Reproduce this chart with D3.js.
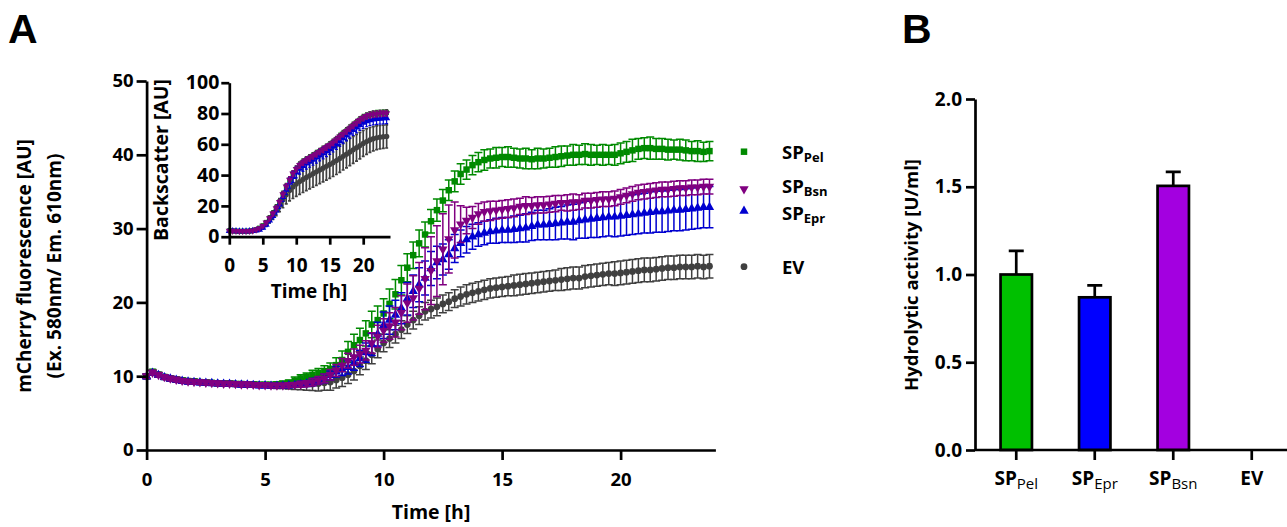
<!DOCTYPE html>
<html><head><meta charset="utf-8">
<script src="https://cdn.jsdelivr.net/npm/d3@7"></script>
<style>
body{margin:0;background:#fff}
svg{display:block;font-family:'Open Sans',sans-serif;font-weight:bold}
</style>
</head><body>
<svg id="c" width="1287" height="527"></svg>
<script>
// ---------- Panel A main: mCherry fluorescence ----------
const time = [0,0.25,0.5,0.75,1,1.25,1.5,1.75,2,2.25,2.5,2.75,3,3.25,3.5,3.75,4,4.25,4.5,4.75,5,5.25,5.5,5.75,
6,6.25,6.5,6.75,7,7.25,7.5,7.75,8,8.25,8.5,8.75,9,9.25,9.5,9.75,10,10.25,10.5,10.75,11,11.25,11.5,11.75,
12,12.25,12.5,12.75,13,13.25,13.5,13.75,14,14.25,14.5,14.75,15,15.25,15.5,15.75,16,16.25,16.5,16.75,17,17.25,17.5,17.75,
18,18.25,18.5,18.75,19,19.25,19.5,19.75,20,20.25,20.5,20.75,21,21.25,21.5,21.75,22,22.25,22.5,22.75,23,23.25,23.5,23.75];

const pelMean = [10.0,10.6,10.2,9.9,9.7,9.55,9.45,9.35,9.3,9.2,9.15,9.1,9.05,9.0,9.0,8.95,8.95,8.9,8.9,8.85,8.85,8.85,8.9,
8.95,9.1,9.4,9.7,9.95,10.2,10.45,10.7,11.0,
11.5,12.2,13.3,14.2, 14.9,15.8,17.0,17.6, 18.5,19.8,21.1,23.0, 24.7,26.4,28.0,29.2,
31.0,32.5,33.8,35.2, 36.4,37.4,38.0,38.6, 39.0,39.3,39.5,39.6, 39.7,39.7,39.6,39.5,
39.5,39.4,39.5,39.5, 39.6,39.7,39.8,39.9, 40.0,40.0,40.1,40.0, 40.0,40.0,40.0,40.0,
40.2,40.4,40.6,40.8, 40.9,40.9,40.8,40.8, 40.7,40.7,40.7,40.6, 40.5,40.5,40.4,40.5];
const pelErr = [0.3,0.3,0.3,0.3,0.3,0.3,0.3,0.3,0.3,0.3,0.3,0.3,0.3,0.3,0.3,0.3,0.3,0.3,0.3,0.3,0.3,0.3,0.3,
0.4,0.4,0.5,0.5,0.5,0.6,0.6,0.7,0.8,
1.0,1.2,1.4,1.5, 1.6,1.7,1.8,1.9, 2.0,2.0,2.0,2.0, 1.9,1.8,1.8,1.7, 1.6,1.5,1.5,1.4, 1.4,1.4,1.3,1.3,
1.3,1.4,1.3,1.4, 1.3,1.4,1.3,1.3, 1.4,1.3,1.4,1.3, 1.3,1.4,1.4,1.3, 1.4,1.3,1.4,1.4,
1.3,1.4,1.3,1.4, 1.4,1.4,1.5,1.4, 1.4,1.5,1.4,1.4, 1.4,1.3,1.4,1.4, 1.3,1.4,1.3,1.3];

const bsnMean = [10.0,10.5,10.2,9.9,9.7,9.55,9.4,9.3,9.25,9.2,9.15,9.1,9.05,9.0,9.0,8.95,8.9,8.9,8.85,8.8,8.8,8.75,8.75,
8.75,8.8,8.85,8.9,9.0,9.2,9.45,9.7,10.2,
10.8,11.5,12.1,12.6, 13.0,13.5,14.5,15.4, 16.2,16.8,17.3,18.6, 19.9,20.6,21.9,23.2,
24.3,25.6,27.2,28.6, 29.8,30.6,31.1,31.5, 32.0,32.3,32.4,32.5, 32.6,32.7,32.8,33.0,
33.1,33.1,33.2,33.2, 33.3,33.4,33.5,33.5, 33.6,33.6,33.8,33.8, 33.9,34.0,34.0,34.1,
34.3,34.5,34.7,34.9, 35.0,35.1,35.2,35.3, 35.3,35.4,35.5,35.5, 35.6,35.6,35.7,35.7];
const bsnErr = [0.3,0.3,0.3,0.3,0.3,0.3,0.3,0.3,0.3,0.3,0.3,0.3,0.3,0.3,0.3,0.3,0.3,0.3,0.3,0.3,0.3,0.3,0.3,
0.3,0.3,0.3,0.4,0.4,0.5,0.5,0.6,0.7,
0.8,0.9,1.0,1.1, 1.2,1.3,1.4,1.5, 1.6,1.8,2.0,2.3, 2.6,3.0,3.5,4.2, 4.6,4.8,4.8,4.6,
3.8,2.5,1.8,1.5, 1.4,1.3,1.3,1.2,
1.2,1.2,1.2,1.1, 1.2,1.1,1.1,1.1, 1.1,1.1,1.0,1.1, 1.1,1.0,1.0,1.0, 1.0,1.0,1.0,1.0,
1.0,1.0,1.0,1.0, 1.0,1.0,1.0,1.0, 1.0,1.0,1.0,1.0, 1.0,1.0,1.0,1.0];

const eprMean = [9.95,10.45,10.15,9.85,9.65,9.5,9.35,9.25,9.2,9.15,9.1,9.05,9.0,8.95,8.95,8.9,8.85,8.85,8.8,8.75,8.75,8.7,8.7,
8.7,8.75,8.8,8.9,9.0,9.2,9.4,9.7,10.1,
10.6,10.9,11.2,11.8, 12.4,13.2,14.3,15.7, 16.9,17.6,18.3,19.2, 20.5,21.5,22.4,23.3,
24.6,25.4,25.8,26.5, 27.3,28.0,28.5,28.9, 29.2,29.4,29.6,29.7, 29.8,29.8,29.9,30.0,
30.1,30.3,30.5,30.5, 30.6,30.7,30.8,30.9, 30.9,31.1,31.2,31.3, 31.4,31.5,31.6,31.6,
31.7,31.8,31.9,32.0, 32.1,32.2,32.3,32.3, 32.4,32.5,32.5,32.6, 32.7,32.8,32.9,32.9];
const eprErr = [0.3,0.3,0.3,0.3,0.3,0.3,0.3,0.3,0.3,0.3,0.3,0.3,0.3,0.3,0.3,0.3,0.3,0.3,0.3,0.3,0.3,0.3,0.3,
0.3,0.3,0.3,0.4,0.4,0.5,0.5,0.6,0.6,
0.7,0.8,0.9,1.0, 1.1,1.3,1.5,1.6, 1.8,1.9,2.0,2.1, 2.2,2.2,2.3,2.3, 2.3,2.2,2.1,2.0,
1.9,1.8,1.8,1.7, 1.6,1.6,1.6,1.7, 1.7,1.7,1.8,1.8, 1.9,1.9,2.0,2.0, 2.1,2.2,2.2,2.3,
2.4,2.4,2.5,2.5, 2.6,2.6,2.6,2.7, 2.7,2.7,2.7,2.7, 2.7,2.8,2.8,2.8, 2.8,2.8,2.8,2.8,
2.8,2.8,2.8,2.8];

const evMean = [10.0,10.5,10.2,9.9,9.7,9.55,9.4,9.3,9.25,9.2,9.15,9.1,9.05,9.0,9.0,8.95,8.9,8.9,8.85,8.8,8.8,8.75,8.75,
8.75,8.75,8.8,8.85,8.9,8.95,9.0,9.1,9.2,
9.5,9.8,10.2,10.7, 11.4,12.1,12.9,13.7, 14.5,15.1,15.7,16.3, 17.0,17.6,18.2,18.8,
19.1,19.4,19.8,20.1, 20.5,20.8,21.1,21.3, 21.5,21.7,21.9,22.0, 22.1,22.2,22.3,22.4,
22.5,22.6,22.7,22.8, 22.9,23.0,23.1,23.2, 23.3,23.3,23.5,23.6, 23.7,23.8,23.9,23.9,
24.0,24.1,24.2,24.3, 24.4,24.4,24.5,24.6, 24.7,24.7,24.8,24.8, 24.8,24.9,24.8,24.9];
const evErr = [0.3,0.3,0.3,0.3,0.3,0.3,0.3,0.3,0.3,0.3,0.3,0.3,0.3,0.3,0.3,0.3,0.3,0.3,0.3,0.3,0.3,0.35,0.4,
0.4,0.5,0.6,0.7,0.8,0.9,1.0,1.0,1.1,
1.1,1.2,1.2,1.2, 1.2,1.2,1.2,1.2, 1.2,1.2,1.2,1.2, 1.2,1.2,1.2,1.2, 1.2,1.2,1.2,1.2,
1.2,1.3,1.3,1.3, 1.3,1.3,1.3,1.3, 1.3,1.3,1.4,1.4, 1.4,1.4,1.4,1.4, 1.4,1.4,1.5,1.5,
1.5,1.5,1.5,1.5, 1.5,1.5,1.5,1.6, 1.6,1.6,1.6,1.6, 1.6,1.6,1.6,1.6, 1.6,1.6,1.6,1.6,
1.6,1.6,1.6,1.6];

// ---------- Panel A inset: backscatter ----------
const insetTime = [0,0.5,1,1.5,2,2.5,3,3.5,4,4.5,5,5.5,6,6.5,7,7.5,8,8.5,9,9.5,10,10.5,11,11.5,
12,12.5,13,13.5,14,14.5,15,15.5,16,16.5,17,17.5,18,18.5,19,19.5,20,20.5,21,21.5,22,22.5,23,23.5];
const insetPel = [3.9,3.8,3.7,3.6,3.6,3.6,3.7,4.0, 4.7,5.7,7.2,9.4,12.2,15.2,18.7,22.7,
27.6,32.6,37.0,41.0,44.0,46.6,48.5,50.0, 51.3,52.6,54.0,55.4,56.8,58.2,59.7,61.4,
63.2,65.2,67.0,68.8,70.6,72.4,74.2,76.0, 77.4,78.5,79.2,79.7,80.0,80.2,80.4,80.6];
const insetPelErr = [0.5,0.5,0.5,0.5,0.5,0.5,0.5,0.5, 0.6,0.7,0.9,1.1,1.3,1.5,1.7,1.9,
2.0,2.0,2.0,2.0,2.0,2.0,2.0,2.0, 2.0,2.0,2.0,2.0,2.0,2.0,2.0,2.0,
2.0,2.0,2.0,2.0,2.0,2.0,2.0,2.0, 2.0,2.0,2.0,2.0,2.0,2.0,2.0,2.0];
const insetBsn = [3.9,3.8,3.7,3.6,3.6,3.6,3.7,4.0, 4.6,5.5,7.0,9.2,12.0,15.0,18.5,22.5,
27.5,32.5,37.0,41.0,44.0,46.5,48.3,49.8, 51.0,52.3,53.8,55.2,56.6,58.0,59.5,61.2,
63.0,65.0,66.8,68.6,70.4,72.2,74.0,75.8, 77.2,78.3,79.0,79.5,79.8,80.0,80.1,80.2];
const insetBsnErr = [0.5,0.5,0.5,0.5,0.5,0.5,0.5,0.5, 0.6,0.7,0.9,1.1,1.3,1.5,1.7,1.9,
2.0,2.0,2.0,2.0,2.0,2.0,2.0,2.0, 2.0,2.0,2.0,2.0,2.0,2.0,2.0,2.0,
2.0,2.0,2.0,2.0,2.0,2.0,2.0,2.0, 2.0,2.0,2.0,2.0,2.0,2.0,2.0,2.0];
const insetEpr = [3.8,3.7,3.6,3.5,3.5,3.5,3.6,3.8, 4.0,4.6,5.8,7.8,10.5,13.5,17.0,21.0,
25.8,30.5,35.0,38.8,41.8,44.2,46.0,47.5, 48.7,50.0,51.4,52.8,54.2,55.6,57.0,58.6,
60.3,62.2,64.0,65.8,67.6,69.3,71.0,72.6, 74.0,75.0,75.7,76.2,76.5,76.7,76.9,77.0];
const insetEprErr = [0.5,0.5,0.5,0.5,0.5,0.5,0.5,0.5, 0.6,0.8,1.0,1.3,1.6,2.0,2.4,2.8,
3.0,3.2,3.4,3.5,3.6,3.6,3.6,3.6, 3.6,3.6,3.6,3.6,3.6,3.6,3.6,3.6,
3.6,3.6,3.6,3.6,3.6,3.6,3.6,3.6, 3.6,3.6,3.6,3.6,3.6,3.6,3.6,3.6];
const insetEv = [3.8,3.7,3.6,3.5,3.5,3.5,3.6,3.8, 4.3,5.2,6.6,8.6,11.2,14.0,17.2,20.5,
24.0,27.3,30.0,32.3,34.2,35.8,37.2,38.5, 39.7,40.9,42.1,43.3,44.5,45.7,46.9,48.1,
49.4,50.8,52.2,53.6,55.0,56.4,57.8,59.2, 60.6,61.8,62.8,63.6,64.2,64.6,64.9,65.1];
const insetEvErr = [0.6,0.6,0.6,0.6,0.6,0.6,0.6,0.6, 0.8,1.0,1.3,1.7,2.2,2.8,3.5,4.3,
5.2,6.0,6.8,7.5,8.0,8.3,8.5,8.6, 8.7,8.8,8.8,8.9,8.9,9.0,9.0,9.0,
9.0,9.0,8.9,8.9,8.8,8.8,8.7,8.6, 8.5,8.3,8.1,7.9,7.7,7.6,7.5,7.5];

// ---------- Panel B: hydrolytic activity ----------
const barCategories = ["Pel","Epr","Bsn","EV"];
const barValues = [1.0, 0.87, 1.505, 0];
const barErrors = [0.135, 0.068, 0.08, 0];

const mainXTicks = [0,5,10,15,20];
const mainYTicks = [0,10,20,30,40,50];
const insetXTicks = [0,5,10,15,20];
const insetYTicks = [0,20,40,60,80,100];
const barYTicks = [0,0.5,1.0,1.5,2.0];

// ---------- drawing ----------
const svg = d3.select("#c");
const AXW = 2.7;

function styleAxis(g, fs){
  g.select(".domain").attr("stroke","#000").attr("stroke-width",AXW);
  g.selectAll(".tick line").attr("stroke","#000").attr("stroke-width",AXW);
  g.selectAll(".tick text").attr("fill","#000").attr("font-size",fs).attr("font-weight","bold")
    .attr("font-family","'Open Sans',sans-serif");
}

// Main scales
const x = d3.scaleLinear().domain([0,24]).range([146.6,715.4]);
const y = d3.scaleLinear().domain([0,50]).range([450,81]);

const series = [
  {name:"EV", mean:evMean, err:evErr, color:"#404040", sym:d3.symbolCircle, size:36, rot:0},
  {name:"Pel", mean:pelMean, err:pelErr, color:"#008a00", sym:d3.symbolSquare, size:42, rot:0},
  {name:"Epr", mean:eprMean, err:eprErr, color:"#0000d0", sym:d3.symbolTriangle, size:38, rot:0},
  {name:"Bsn", mean:bsnMean, err:bsnErr, color:"#800080", sym:d3.symbolTriangle, size:38, rot:180}
];

function drawSeries(g, tArr, s, xs, ys, capW, sw, size){
  const gg = g.append("g");
  const pts = tArr.map((t,i)=>({t, m:s.mean[i], e:s.err[i]}));
  gg.selectAll("path.eb").data(pts).join("path").attr("class","eb")
    .attr("d",d=>{
      const cx=xs(d.t), y1=ys(d.m+d.e), y2=ys(d.m-d.e);
      return `M${cx},${y1}V${y2}M${cx-capW},${y1}H${cx+capW}M${cx-capW},${y2}H${cx+capW}`;
    })
    .attr("stroke",s.color).attr("stroke-width",sw).attr("fill","none");
  gg.selectAll("path.mk").data(pts).join("path").attr("class","mk")
    .attr("d",d3.symbol().type(s.sym).size(size))
    .attr("transform",d=>`translate(${xs(d.t)},${ys(d.m)}) rotate(${s.rot})`)
    .attr("fill",s.color);
}

const plotG = svg.append("g");
series.forEach(s=>drawSeries(plotG, time, s, x, y, 4, 1.5, s.size));

const gx = svg.append("g").attr("transform","translate(0,450)")
  .call(d3.axisBottom(x).tickValues(mainXTicks).tickSize(10).tickSizeOuter(0).tickPadding(13).tickFormat(d3.format("d")));
styleAxis(gx, 18.5);
const gy = svg.append("g").attr("transform","translate(146.6,0)")
  .call(d3.axisLeft(y).tickValues(mainYTicks).tickSize(10).tickSizeOuter(0).tickPadding(3).tickFormat(d3.format("d")));
styleAxis(gy, 18.5);

svg.append("text").attr("x",431).attr("y",519).attr("text-anchor","middle").attr("font-size",19.5).text("Time [h]");
svg.append("text").attr("transform","translate(31,266) rotate(-90)").attr("text-anchor","middle").attr("font-size",19)
  .text("mCherry fluorescence [AU]");
svg.append("text").attr("transform","translate(61,266) rotate(-90)").attr("text-anchor","middle").attr("font-size",19)
  .text("(Ex. 580nm/ Em. 610nm)");

// Legend
const legendItems = [
  {sub:"Pel", s:series[1], cy:151.7, by:158.5},
  {sub:"Bsn", s:series[3], cy:189, by:193},
  {sub:"Epr", s:series[2], cy:211, by:220},
  {sub:null, label:"EV", s:series[0], cy:266.7, by:273.5}
];
legendItems.forEach(it=>{
  svg.append("path").attr("d",d3.symbol().type(it.s.sym).size(it.s.size))
    .attr("transform",`translate(744,${it.cy}) rotate(${it.s.rot})`).attr("fill",it.s.color);
  const t = svg.append("text").attr("x",782).attr("y",it.by).attr("font-size",18.5);
  if(it.sub){
    t.append("tspan").text("SP");
    t.append("tspan").attr("dy",3).attr("font-size",13).text(it.sub);
  } else t.text(it.label);
});

// Inset
const ix = d3.scaleLinear().domain([0,24]).range([229.3,390]);
const iy = d3.scaleLinear().domain([0,100]).range([236.7,82.7]);
const insetSeries = [
  {mean:insetEv, err:insetEvErr, color:"#404040", sym:d3.symbolCircle, rot:0, sw:1.7},
  {mean:insetPel, err:insetPelErr, color:"#008a00", sym:d3.symbolSquare, rot:0, sw:1.2},
  {mean:insetEpr, err:insetEprErr, color:"#0000d0", sym:d3.symbolTriangle, rot:0, sw:1.2},
  {mean:insetBsn, err:insetBsnErr, color:"#800080", sym:d3.symbolTriangle, rot:180, sw:1.2}
];
const insetG = svg.append("g");
insetSeries.forEach(s=>drawSeries(insetG, insetTime, s, ix, iy, 1.5, s.sw, 22));

const igx = svg.append("g").attr("transform","translate(0,236.7)")
  .call(d3.axisBottom(ix).tickValues(insetXTicks).tickSize(8).tickSizeOuter(0).tickPadding(14).tickFormat(d3.format("d")));
styleAxis(igx, 19);
const igy = svg.append("g").attr("transform","translate(229.3,0)")
  .call(d3.axisLeft(iy).tickValues(insetYTicks).tickSize(8).tickSizeOuter(0).tickPadding(2).tickFormat(d3.format("d")));
styleAxis(igy, 19.5);
svg.append("text").attr("x",309).attr("y",298).attr("text-anchor","middle").attr("font-size",19).text("Time [h]");
svg.append("text").attr("transform","translate(168,160) rotate(-90)").attr("text-anchor","middle").attr("font-size",19.5)
  .text("Backscatter [AU]");

// Panel letters
svg.append("text").attr("x",8).attr("y",43).attr("font-size",41).attr("font-family","'Liberation Sans',Arial,sans-serif").text("A");
svg.append("text").attr("x",902).attr("y",43).attr("font-size",41).attr("font-family","'Liberation Sans',Arial,sans-serif").text("B");

// Panel B
const bx = d3.scaleBand().domain(barCategories).range([977,1291]).paddingInner(0.6).paddingOuter(0.3);
const by = d3.scaleLinear().domain([0,2]).range([450,99]);
const barColors = ["#00c000","#0000ff","#a300e0","#888"];

const bg = svg.append("g");
barCategories.forEach((c,i)=>{
  if(barValues[i] <= 0) return;
  const cx = bx(c)+bx.bandwidth()/2;
  bg.append("path").attr("d",`M${cx},${by(barValues[i])}V${by(barValues[i]+barErrors[i])}M${cx-7.5},${by(barValues[i]+barErrors[i])}H${cx+7.5}`)
    .attr("stroke","#000").attr("stroke-width",AXW).attr("fill","none");
  bg.append("rect").attr("x",bx(c)).attr("width",bx.bandwidth())
    .attr("y",by(barValues[i])).attr("height",by(0)-by(barValues[i]))
    .attr("fill",barColors[i]).attr("stroke","#000").attr("stroke-width",AXW);
});

const bgy = svg.append("g").attr("transform","translate(975,0)")
  .call(d3.axisLeft(by).tickValues(barYTicks).tickSize(9).tickSizeOuter(0).tickPadding(4).tickFormat(d3.format(".1f")));
styleAxis(bgy, 19);
const bgx = svg.append("g").attr("transform","translate(0,450)")
  .call(d3.axisBottom(bx).tickSize(10).tickSizeOuter(0).tickFormat(""));
styleAxis(bgx, 19);
bgx.select(".domain").attr("d","M975,0H1287");
barCategories.forEach(c=>{
  const t = svg.append("text").attr("x",bx(c)+bx.bandwidth()/2).attr("y",485).attr("text-anchor","middle").attr("font-size",19);
  if(c==="EV"){ t.text("EV"); }
  else {
    t.append("tspan").text("SP");
    t.append("tspan").attr("dy",4).attr("font-size",15).attr("font-weight","normal").text(c);
  }
});
svg.append("text").attr("transform","translate(918,275) rotate(-90)").attr("text-anchor","middle").attr("font-size",18.5)
  .text("Hydrolytic activity [U/ml]");
</script>
</body></html>
